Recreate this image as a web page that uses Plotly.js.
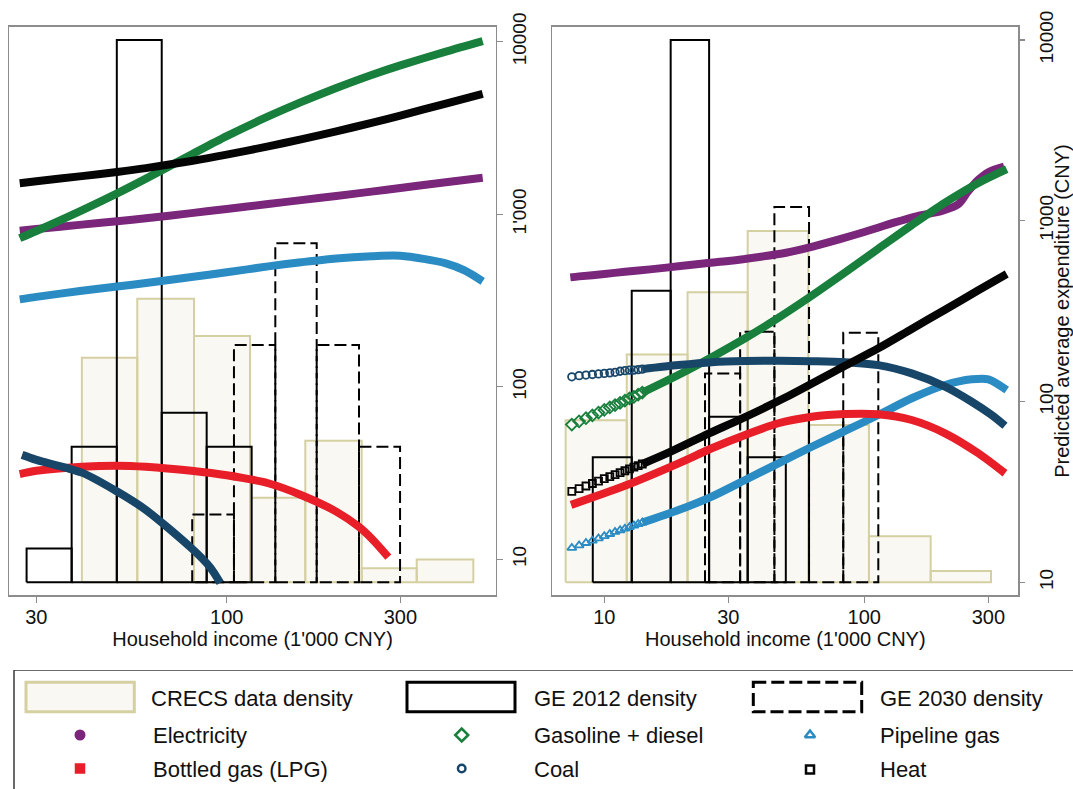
<!DOCTYPE html>
<html>
<head>
<meta charset="utf-8">
<script src="https://cdn.plot.ly/plotly-3.0.1.min.js"></script>
<style>
  html, body { margin: 0; padding: 0; background: #ffffff; }
  #chart { width: 1073px; height: 789px; }
</style>
</head>
<body>
<div id="chart"></div>
<script>
// ---------- Income histograms (bin edges in 1'000 CNY, density relative to peak) ----------
const crecsEdgesL  = [40.0, 56.8, 81.3, 115.9, 164.4, 234.9, 332.7, 475.9];
const crecsDensL   = [0.414, 0.523, 0.454, 0.156, 0.261, 0.026, 0.042];
const ge2012EdgesL = [28.2, 37.5, 49.9, 66.3, 88.1, 117.1];
const ge2012DensL  = [0.0625, 0.25, 1.0, 0.3125, 0.25];
const ge2030EdgesL = [80.4, 104.7, 136.0, 176.7, 230.9, 299.4];
const ge2030DensL  = [0.125, 0.4375, 0.625, 0.4375, 0.25];

const crecsEdgesR  = [7.10, 12.2, 20.9, 35.6, 60.9, 104.2, 180.0, 307.1];
const crecsDensR   = [0.299, 0.420, 0.535, 0.648, 0.29, 0.085, 0.021];
const ge2012EdgesR = [9.03, 12.75, 18.0, 25.3, 35.6, 49.9];
const ge2012DensR  = [0.2305, 0.5377, 1.0, 0.3054, 0.2305];
const ge2030EdgesR = [24.4, 33.3, 45.1, 61.3, 83.0, 113.2];
const ge2030DensR  = [0.385, 0.462, 0.692, 0.305, 0.46];

// ---------- Predicted average expenditure (CNY), left panel ----------
const incomeL      = [27, 30, 40, 50, 60, 80, 100, 130, 160, 200, 250, 300, 400, 505];
const electricityL = [804, 822, 871, 911, 948, 1016, 1074, 1147, 1208, 1277, 1353, 1422, 1532, 1628];
const gasolineL    = [727, 800, 1053, 1321, 1609, 2221, 2839, 3690, 4467, 5400, 6427, 7302, 8777, 10095];
const heatL        = [1514, 1554, 1665, 1760, 1853, 2037, 2217, 2475, 2719, 3025, 3389, 3734, 4387, 4986];
const pipelineIncomeL = [27, 30, 40, 50, 60, 80, 100, 130, 160, 200, 250, 300, 400, 450, 505];
const pipelineL       = [321, 332, 360, 381, 400, 433, 461, 499, 527, 555, 571, 575, 520, 473, 409];
const lpgIncomeL   = [27, 30, 40, 50, 60, 80, 100, 130, 160, 200, 230, 250, 278];
const lpgL         = [31.2, 32.6, 34.4, 34.9, 34.4, 32.6, 30.7, 27.6, 23.6, 18.9, 15.5, 13.2, 10.3];
const coalIncomeL  = [27.4, 30, 40, 50, 60, 80, 90, 96];
const coalL        = [40.3, 37.7, 31.8, 24.7, 19.3, 11.6, 9.0, 7.3];

// ---------- Predicted average expenditure (CNY), right panel ----------
const electricityIncomeR = [7.4, 8, 10, 12, 15, 20, 25, 30, 40, 50, 60, 80, 100, 130, 160, 200, 230, 250, 274, 300, 345];
const electricityR       = [486, 492, 507, 522, 538, 563, 583, 598, 632, 665, 706, 789, 866, 975, 1061, 1136, 1236, 1446, 1679, 1854, 1990];
const lpgIncomeR = [7.45, 10, 12.2, 19.3, 25.9, 34.8, 46.7, 62.8, 84.3, 113.2, 152.2, 204.4, 274.5, 347.6];
const lpgR       = [26.8, 31.1, 34.5, 45.5, 55.1, 65.3, 75.8, 82.4, 85.3, 85.0, 79.0, 66.7, 51.7, 40.1];
const gasolineIncomeR = [14, 21.0, 34.8, 45.4, 60.9, 84.3, 113.2, 152.2, 204.4, 274.5, 353];
const gasolineR       = [112, 149.3, 223.7, 282.7, 373.7, 517.3, 698.9, 945, 1259, 1617, 1928];
const heatIncomeR = [14, 18.0, 25.3, 33.3, 49.9, 83.0, 113.2, 152.2, 204.4, 274.5, 353];
const heatR       = [45.1, 52.8, 66.7, 79.6, 105.5, 155.8, 196.9, 252, 322, 412, 507];
const coalIncomeR = [14, 19.3, 25.9, 34.8, 46.7, 62.8, 84.3, 113.2, 152.2, 204.4, 258.9, 309, 347.6];
const coalR       = [151, 159, 165, 167.5, 168, 167, 165, 159, 143, 120.8, 99.7, 84.1, 73.4];
const pipelineIncomeR = [14, 19.3, 25.9, 34.8, 46.7, 62.8, 84.3, 113.2, 152.2, 204.4, 258.9, 300, 353];
const pipelineR       = [21.4, 25.1, 29.8, 36.8, 45.5, 56.2, 68.7, 84.2, 104.2, 123.4, 132.7, 132.7, 115.8];

// Low-income predictions where the individual hollow markers stand apart
const lowIncomeR   = [7.5, 8, 8.5, 9, 9.5, 10, 10.5, 11, 11.5, 12, 12.5, 13, 13.5, 14];
const coalLowR     = [137, 139, 140, 141, 142, 143, 144, 145, 147, 148, 149, 149, 150, 151];
const gasolineLowR = [74.5, 77.7, 80.8, 83.8, 86.9, 89.8, 92.7, 95.5, 98.3, 101, 104, 106, 109, 112];
const heatLowR     = [31.8, 33.0, 34.1, 35.2, 36.3, 37.4, 38.4, 39.4, 40.4, 41.4, 42.4, 43.3, 44.2, 45.1];
const pipelineLowR = [15.5, 16.0, 16.5, 17.0, 17.5, 18.0, 18.5, 19.0, 19.4, 19.8, 20.2, 20.6, 21.0, 21.4];

// ---------- Styling ----------
const FONT = 'Liberation Sans, Arial, Helvetica, sans-serif';
const TEXT = '#111111';
const FRAME = '#8c8c8c';
const COL = {
  electricity: '#7a267a',
  gasoline: '#18803c',
  pipeline: '#2a8cc3',
  lpg: '#e81e28',
  coal: '#184669',
  heat: '#050505',
  crecsFill: '#f9f8f3',
  crecsLine: '#d5d0a2'
};
const CURVE_W = 8;

// Outline of a histogram as closed rectangles, one per bin
function histPath(edges, dens) {
  const x = [], y = [];
  for (let i = 0; i < dens.length; i++) {
    x.push(edges[i], edges[i], edges[i + 1], edges[i + 1], edges[i], null);
    y.push(0, dens[i], dens[i], 0, 0, null);
  }
  return { x, y };
}
function histTrace(edges, dens, xa, ya, style) {
  const p = histPath(edges, dens);
  return {
    type: 'scatter', mode: 'lines', x: p.x, y: p.y, xaxis: xa, yaxis: ya,
    fill: style.fill ? 'toself' : 'none', fillcolor: style.fill || 'rgba(0,0,0,0)',
    line: { color: style.color, width: 2, dash: style.dash || 'solid' },
    connectgaps: false, hoverinfo: 'skip', showlegend: false
  };
}
function curveTrace(x, y, xa, ya, color) {
  return {
    type: 'scatter', mode: 'lines', x, y, xaxis: xa, yaxis: ya,
    line: { color, width: CURVE_W, shape: 'spline', smoothing: 0.8 },
    hoverinfo: 'skip', showlegend: false
  };
}
function markerTrace(x, y, xa, ya, color, symbol, size) {
  return {
    type: 'scatter', mode: 'markers', x, y, xaxis: xa, yaxis: ya,
    marker: { symbol, size, color, opacity: 1, line: { color, width: 1.8 } },
    hoverinfo: 'skip', showlegend: false
  };
}

const DASH = '12px,5px';
const traces = [
  // left panel
  histTrace(crecsEdgesL, crecsDensL, 'x', 'y', { fill: COL.crecsFill, color: COL.crecsLine }),
  histTrace(ge2012EdgesL, ge2012DensL, 'x', 'y', { color: '#000000' }),
  histTrace(ge2030EdgesL, ge2030DensL, 'x', 'y', { color: '#000000', dash: DASH }),
  curveTrace(incomeL, electricityL, 'x', 'y3', COL.electricity),
  curveTrace(incomeL, gasolineL, 'x', 'y3', COL.gasoline),
  curveTrace(pipelineIncomeL, pipelineL, 'x', 'y3', COL.pipeline),
  curveTrace(lpgIncomeL, lpgL, 'x', 'y3', COL.lpg),
  curveTrace(coalIncomeL, coalL, 'x', 'y3', COL.coal),
  curveTrace(incomeL, heatL, 'x', 'y3', COL.heat),
  // right panel
  histTrace(crecsEdgesR, crecsDensR, 'x2', 'y2', { fill: COL.crecsFill, color: COL.crecsLine }),
  histTrace(ge2012EdgesR, ge2012DensR, 'x2', 'y2', { color: '#000000' }),
  histTrace(ge2030EdgesR, ge2030DensR, 'x2', 'y2', { color: '#000000', dash: DASH }),
  curveTrace(electricityIncomeR, electricityR, 'x2', 'y4', COL.electricity),
  markerTrace(lowIncomeR, gasolineLowR, 'x2', 'y4', COL.gasoline, 'diamond-open', 9),
  curveTrace(gasolineIncomeR, gasolineR, 'x2', 'y4', COL.gasoline),
  markerTrace(lowIncomeR, pipelineLowR, 'x2', 'y4', COL.pipeline, 'triangle-up-open', 8),
  curveTrace(pipelineIncomeR, pipelineR, 'x2', 'y4', COL.pipeline),
  curveTrace(lpgIncomeR, lpgR, 'x2', 'y4', COL.lpg),
  markerTrace(lowIncomeR, coalLowR, 'x2', 'y4', COL.coal, 'circle-open', 7.5),
  curveTrace(coalIncomeR, coalR, 'x2', 'y4', COL.coal),
  markerTrace(lowIncomeR, heatLowR, 'x2', 'y4', COL.heat, 'square-open', 7),
  curveTrace(heatIncomeR, heatR, 'x2', 'y4', COL.heat)
];

// ---------- Legend (drawn in its own pixel-space subplot below the panels) ----------
const legendColors = [COL.electricity, COL.lpg, COL.gasoline, COL.coal, COL.pipeline, COL.heat];
traces.push({
  type: 'scatter', mode: 'markers', xaxis: 'x3', yaxis: 'y5',
  x: [80, 80, 461.7, 461.7, 810, 810],
  y: [735, 768.5, 735, 768.5, 735, 769.5],
  marker: {
    symbol: ['circle', 'square', 'diamond-open', 'circle-open', 'triangle-up-open', 'square-open'],
    size: [8.5, 8, 10, 7.5, 9, 8],
    color: legendColors, opacity: 1,
    line: { color: legendColors, width: 2.5 }
  },
  hoverinfo: 'skip', showlegend: false
});

const legendLabels = [
  { text: 'CRECS data density', x: 149.3, y: 698 },
  { text: 'GE 2012 density', x: 531.7, y: 698 },
  { text: 'GE 2030 density', x: 878.3, y: 698 },
  { text: 'Electricity', x: 150.7, y: 735.5 },
  { text: 'Gasoline + diesel', x: 531.7, y: 735.5 },
  { text: 'Pipeline gas', x: 878.3, y: 735.5 },
  { text: 'Bottled gas (LPG)', x: 150.7, y: 769.5 },
  { text: 'Coal', x: 531.7, y: 769.5 },
  { text: 'Heat', x: 878.3, y: 769.5 }
];
const annotations = legendLabels.map(l => ({
  xref: 'x3', yref: 'y5', x: l.x, y: l.y, text: l.text, showarrow: false,
  xanchor: 'left', yanchor: 'middle', font: { family: FONT, size: 22, color: TEXT }
}));

const shapes = [
  // legend frame (runs off the right and bottom of the figure)
  { type: 'rect', xref: 'x3', yref: 'y5', x0: 14, x1: 1100, y0: 670, y1: 830,
    line: { color: '#3a3a3a', width: 1.5 }, fillcolor: 'rgba(0,0,0,0)' },
  { type: 'rect', xref: 'x3', yref: 'y5', x0: 26, x1: 134.3, y0: 682.3, y1: 711.7,
    line: { color: COL.crecsLine, width: 3 }, fillcolor: COL.crecsFill },
  { type: 'rect', xref: 'x3', yref: 'y5', x0: 407, x1: 515, y0: 682.3, y1: 711.7,
    line: { color: '#000000', width: 3 }, fillcolor: 'rgba(0,0,0,0)' },
  { type: 'rect', xref: 'x3', yref: 'y5', x0: 753.3, x1: 861.7, y0: 682.3, y1: 711.7,
    line: { color: '#000000', width: 3, dash: '13px,5px' }, fillcolor: 'rgba(0,0,0,0)' }
];

// ---------- Axes ----------
const W = 1073, H = 789;
const yDom = [(H - 595.3) / H, (H - 26.7) / H];
const densRange = [-0.02397, 1.02453];
const tickFont = { family: FONT, size: 20, color: TEXT };
const xTitle = { text: "Household income (1'000 CNY)", font: { family: FONT, size: 20, color: TEXT }, standoff: 2 };

function incomeAxis(domain, range, tickvals, anchor) {
  return {
    domain, range, type: 'log', anchor, tickvals, ticktext: tickvals.map(String),
    ticks: 'outside', ticklen: 6, tickwidth: 1.2, tickcolor: FRAME, ticklabelstandoff: -3,
    showline: true, mirror: true, linecolor: FRAME, linewidth: 1.5,
    showgrid: false, zeroline: false, tickfont: tickFont, title: xTitle, fixedrange: true
  };
}
function densityAxis(anchor) {
  return {
    domain: yDom, range: densRange, anchor, showline: true, mirror: true,
    linecolor: FRAME, linewidth: 1.5, showticklabels: false, ticks: '',
    showgrid: false, zeroline: false, fixedrange: true
  };
}
function expenditureAxis(overlay, anchor, range, standoff, title) {
  const ax = {
    overlaying: overlay, anchor, side: 'right', type: 'log', range,
    tickvals: [10, 100, 1000, 10000], ticktext: ['10', '100', "1'000", '10000'],
    tickangle: -90, ticks: 'outside', ticklen: 6, tickwidth: 1.2, tickcolor: FRAME,
    ticklabelstandoff: standoff,
    showline: false, showgrid: false, zeroline: false,
    tickfont: { family: FONT, size: 19, color: TEXT }, fixedrange: true
  };
  if (title) ax.title = { text: title, font: { family: FONT, size: 20, color: TEXT }, standoff: 2 };
  return ax;
}

const layout = {
  width: W, height: H, autosize: false,
  margin: { l: 0, r: 0, t: 0, b: 0, pad: 0 },
  paper_bgcolor: '#ffffff', plot_bgcolor: 'rgba(0,0,0,0)',
  font: { family: FONT, color: TEXT },
  showlegend: false, hovermode: false,
  xaxis:  incomeAxis([9.3 / W, 495.7 / W], [1.40275, 2.73901], [30, 100, 300], 'y'),
  yaxis:  densityAxis('x'),
  yaxis3: expenditureAxis('y', 'x', [0.7913, 4.0875], 0, null),
  xaxis2: incomeAxis([552.3 / W, 1018.3 / W], [0.8, 2.5923], [10, 30, 100, 300], 'y2'),
  yaxis2: densityAxis('x2'),
  yaxis4: expenditureAxis('y2', 'x2', [0.9281, 4.0730], 5, 'Predicted average expenditure (CNY)'),
  xaxis3: { domain: [0, 1], range: [0, W], visible: false, fixedrange: true, anchor: 'y5' },
  yaxis5: { domain: [0, (H - 670) / H], range: [H, 670], visible: false, fixedrange: true, anchor: 'x3' },
  annotations, shapes
};

Plotly.newPlot('chart', traces, layout, { staticPlot: true, displayModeBar: false });
</script>
</body>
</html>
